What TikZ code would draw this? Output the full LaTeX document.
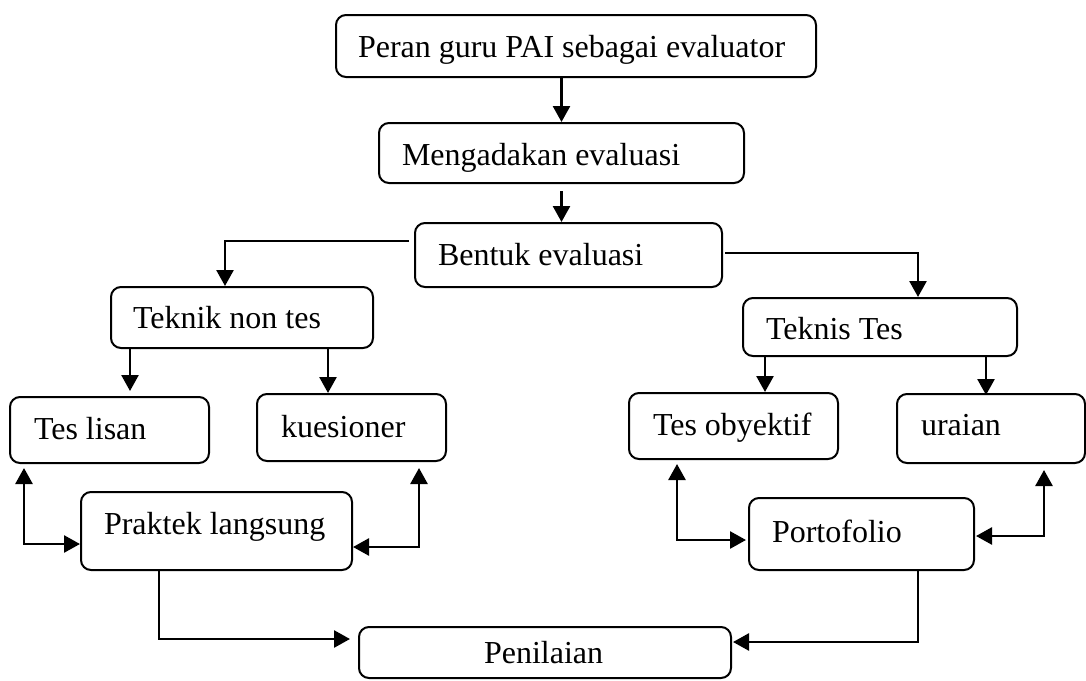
\documentclass[tikz,border=0pt]{standalone}
\usepackage{fontspec}
\setmainfont{Liberation Serif}
\usetikzlibrary{arrows.meta,calc}
\newcommand{\bt}[4]{\makebox[#1pt][l]{\hspace{#2pt}\raisebox{-#4pt}{#3}}\rule[-24pt]{0pt}{48pt}}
\begin{document}
\begin{tikzpicture}[x=1pt,y=-1pt,
  box/.style={draw, line width=2pt, rounded corners=10pt, inner sep=0pt, font=\fontsize{32}{38}\selectfont},
  arr/.style={line width=2.6pt, -{Triangle[length=16pt,width=17pt]}},
  dbl/.style={line width=2.6pt, {Triangle[length=16pt,width=17pt]}-{Triangle[length=16pt,width=17pt]}}]
\useasboundingbox (0,0) rectangle (1086,680);

\node[box, minimum width=480pt, minimum height=62pt] (peran) at (576,46) {\bt{480}{22}{Peran guru PAI sebagai evaluator}{11}};
\node[box, minimum width=365pt, minimum height=60pt] (meng) at (561.5,153) {\bt{365}{23}{Mengadakan evaluasi}{12}};
\node[box, minimum width=307pt, minimum height=64pt] (bentuk) at (568.5,255) {\bt{307}{23}{Bentuk evaluasi}{10}};
\node[box, minimum width=262pt, minimum height=61pt] (nontes) at (242,317.5) {\bt{262}{22}{Teknik non tes}{10.5}};
\node[box, minimum width=199pt, minimum height=66pt] (lisan) at (109.5,430) {\bt{199}{24}{Tes lisan}{9}};
\node[box, minimum width=189pt, minimum height=67pt] (kues) at (351.5,427.5) {\bt{189}{24}{kuesioner}{9.5}};
\node[box, minimum width=271pt, minimum height=78pt] (praktek) at (216.5,531) {\bt{271}{23}{Praktek langsung}{3}};
\node[box, minimum width=274pt, minimum height=58pt] (teknis) at (880,327) {\bt{274}{23}{Teknis Tes}{12}};
\node[box, minimum width=209pt, minimum height=66pt] (obyektif) at (733.5,426) {\bt{209}{24}{Tes obyektif}{9}};
\node[box, minimum width=188pt, minimum height=69pt] (uraian) at (991,428.5) {\bt{188}{24}{uraian}{6.5}};
\node[box, minimum width=225pt, minimum height=72pt] (porto) at (861.5,534) {\bt{225}{23}{Portofolio}{8}};
\node[box, minimum width=372pt, minimum height=51pt] (pen) at (545,652.5) {\bt{372}{125}{Penilaian}{10.5}};

\draw[arr] (peran.south -| meng.north) -- (meng.north);
\draw[arr, shorten <=7pt] (meng.south) -- (bentuk.north -| meng.south);
\draw[arr] ($(bentuk.west)+(-5,-14)$) -| ($(nontes.north)+(-17,0)$);
\draw[arr] ($(bentuk.east)+(2,-2)$) -| ($(teknis.north)+(38,0)$);

\coordinate (a1) at ($(nontes.south west)+(20,0)$);
\coordinate (a2) at ($(nontes.south east)+(-46,0)$);
\draw[arr, shorten >=5pt] (a1) -- (a1 |- lisan.north);
\draw[arr] (a2) -- (a2 |- kues.north);

\coordinate (b1) at ($(lisan.south west)+(15,4)$);
\coordinate (b2) at ($(kues.south east)+(-28,6)$);
\draw[dbl] (b1) |- ($(praktek.west)+(0,13)$);
\draw[dbl] (b2) |- ($(praktek.east)+(0,16)$);

\coordinate (c1) at ($(praktek.south west)+(79,0)$);
\draw[arr] (c1) |- ($(pen.west)+(-8,-13.5)$);

\coordinate (d1) at ($(teknis.south west)+(23,0)$);
\coordinate (d2) at ($(teknis.south east)+(-32,0)$);
\draw[arr] (d1) -- (d1 |- obyektif.north);
\draw[arr] (d2) -- ($(d2 |- uraian.north)+(0,2)$);

\coordinate (e1) at ($(obyektif.south west)+(49,4)$);
\coordinate (e2) at ($(uraian.south east)+(-42,6)$);
\draw[dbl] (e1) |- ($(porto.west)+(-2,6)$);
\draw[dbl] (e2) |- ($(porto.east)+(1,2)$);

\coordinate (f1) at ($(porto.south east)+(-57,0)$);
\draw[arr] (f1) |- ($(pen.east)+(1,-10.5)$);
\end{tikzpicture}
\end{document}
